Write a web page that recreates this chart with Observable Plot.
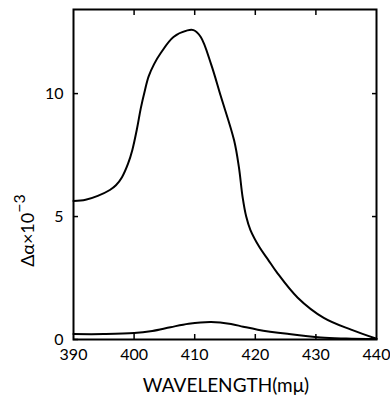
<!DOCTYPE html>
<html>
<head>
<meta charset="utf-8">
<script src="https://cdn.jsdelivr.net/npm/d3@7"></script>
<script src="https://cdn.jsdelivr.net/npm/@observablehq/plot@0.6"></script>
<style>
  html, body { margin: 0; padding: 0; background: white; }
</style>
</head>
<body>
<div id="chart"></div>
<script>
// Upper curve
const upperWavelength = [390, 392, 394, 396, 397, 398, 399, 399.7, 400.5, 401.1, 401.8, 402.4, 403.3, 404.4, 406.5, 408.8, 409.8, 411, 412.7, 414.3, 416.5, 417.3, 417.9, 418.5, 419.2, 420.7, 422.1, 423.5, 427, 431.3, 435.8, 440];
const upperValue      = [5.63, 5.68, 5.84, 6.08, 6.27, 6.6, 7.15, 7.7, 8.6, 9.4, 10.15, 10.7, 11.2, 11.65, 12.3, 12.57, 12.58, 12.3, 11.2, 9.9, 8.1, 7.0, 5.8, 5.0, 4.45, 3.75, 3.25, 2.75, 1.7, 0.88, 0.4, 0.03];
// Lower curve
const lowerWavelength = [390, 395, 400, 403, 406, 409, 412.7, 416, 418, 420.4, 425.3, 430.8, 435, 440];
const lowerValue      = [0.22, 0.22, 0.26, 0.35, 0.5, 0.64, 0.71, 0.63, 0.52, 0.4, 0.23, 0.08, 0.04, 0.02];

const xTicks = [390, 400, 410, 420, 430, 440];
const xInnerTicks = [400, 410, 420, 430];
const yTicks = [0, 5, 10];
const yRightTicks = [5, 10];
const xLabel = "WAVELENGTH(mμ)";
const yLabelMain = "Δα×10";
const yLabelExp = "−3";

const upper = upperWavelength.map((w, i) => ({w, v: upperValue[i]}));
const lower = lowerWavelength.map((w, i) => ({w, v: lowerValue[i]}));

const chart = Plot.plot({
  width: 390,
  height: 397,
  marginLeft: 73,
  marginRight: 14,
  marginTop: 9,
  marginBottom: 58,
  style: {fontFamily: "Lato, 'Open Sans', sans-serif", fontSize: "16px", color: "black", background: "white"},
  x: {domain: [390, 440]},
  y: {domain: [0, 13.42]},
  marks: [
    Plot.axisX(xTicks, {anchor: "bottom", tickSize: 0, tickPadding: 9, fontSize: 16, label: null}),
    Plot.axisX(xInnerTicks, {anchor: "bottom", tickSize: -5, strokeWidth: 1.5, tickFormat: () => "", label: null}),
    Plot.axisX(xInnerTicks, {anchor: "top", tickSize: -5, strokeWidth: 1.5, tickFormat: () => "", label: null}),
    Plot.axisY(yTicks, {anchor: "left", tickSize: 0, tickPadding: 10, fontSize: 16, label: null}),
    Plot.axisY(yTicks, {anchor: "left", tickSize: -5, strokeWidth: 1.5, tickFormat: () => "", label: null}),
    Plot.axisY(yRightTicks, {anchor: "right", tickSize: -5, strokeWidth: 1.5, tickFormat: () => "", label: null}),
    Plot.text([xLabel], {text: d => d, frameAnchor: "bottom", lineAnchor: "middle", textAnchor: "middle", dy: 46, dx: 1, fontSize: 19, letterSpacing: "2.4px"}),
    Plot.text([yLabelMain], {text: d => d, frameAnchor: "left", textAnchor: "middle", lineAnchor: "middle", rotate: -90, dx: -45, dy: 56, fontSize: 18}),
    Plot.frame({stroke: "black", strokeWidth: 2}),
    Plot.line(upper, {x: "w", y: "v", curve: "catmull-rom", stroke: "black", strokeWidth: 2}),
    Plot.line(lower, {x: "w", y: "v", curve: "catmull-rom", stroke: "black", strokeWidth: 2})
  ]
});
// add the exponent as a raised tspan to the y label
d3.select(chart).selectAll("text").filter(function() { return this.textContent === yLabelMain; })
  .append("tspan").attr("dy", "-0.55em").attr("font-size", 16).text(yLabelExp);
document.getElementById("chart").appendChild(chart);
</script>
</body>
</html>
